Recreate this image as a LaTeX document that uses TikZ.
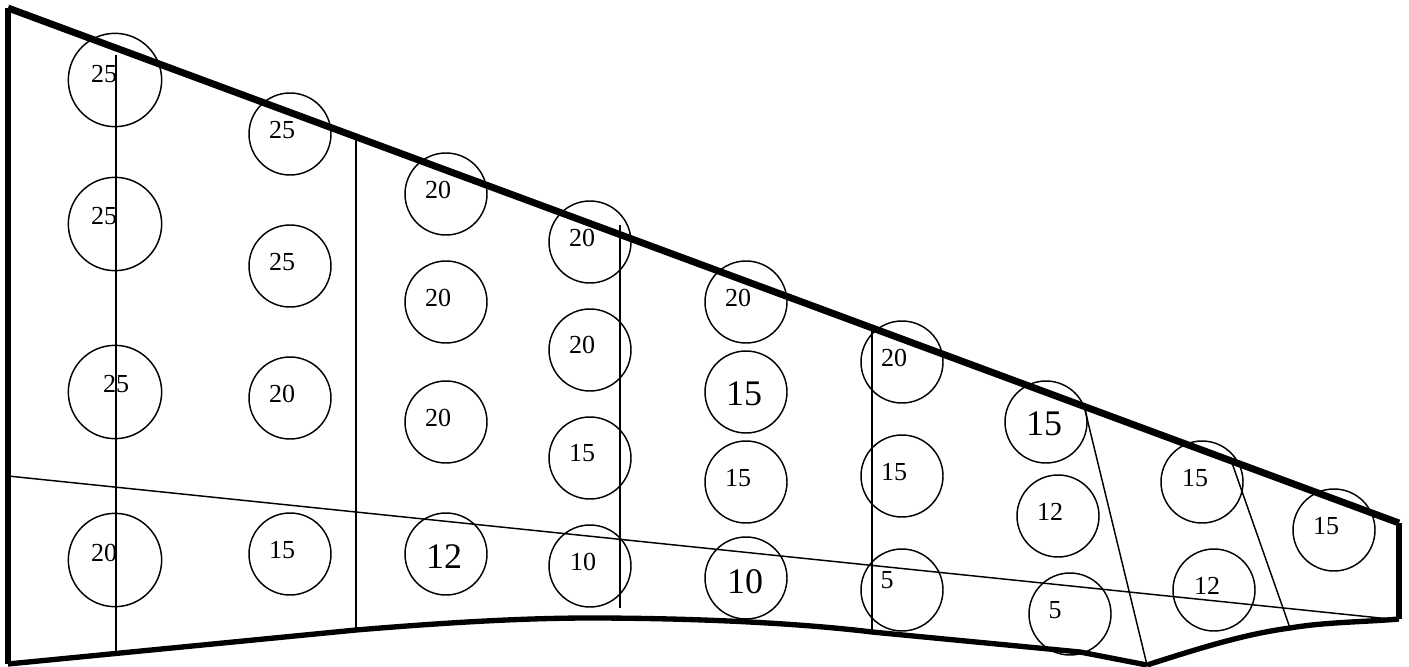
\documentclass[tikz,border=0pt]{standalone}
\usepackage{fontspec}
\setmainfont{Liberation Serif}
\tikzset{
  ringbig/.style={circle, draw=black, line width=1.1pt, inner sep=0pt, minimum size=70pt},
  ring/.style   ={circle, draw=black, line width=1.1pt, inner sep=0pt, minimum size=61.5pt},
  num/.style    ={inner sep=0pt, font=\fontsize{19.5}{22}\selectfont},
  numbig/.style ={inner sep=0pt, font=\fontsize{27}{30}\selectfont},
  thinline/.style={draw=black, line width=1.1pt},
  outline/.style ={draw=black, line width=4pt},
  topedge/.style ={draw=black, line width=5.2pt},
}
\begin{document}
\begin{tikzpicture}[x=0.75pt,y=-0.75pt]
\useasboundingbox (0,0) rectangle (1409,667);
% --- outline points ---
\coordinate (tl) at (8,8);
\coordinate (tr) at (1399,523);
\coordinate (br) at (1399,619);
\coordinate (kink) at (1147,665);
\coordinate (flapb) at (1290,628);
\coordinate (bl) at (8,664);
\coordinate (b1) at (116,654);
\coordinate (b2) at (356,630);
\coordinate (b3) at (590,618);
\coordinate (b4) at (872,632);
% --- thin line ends ---
\coordinate (t1) at (116,55);
\coordinate (t2) at (356,140);
\coordinate (t3) at (620,225);
\coordinate (b3s) at (620,608);
\coordinate (t4) at (872,330);
\coordinate (t5) at (1085,410);
\coordinate (t6) at (1232,463);
\coordinate (ml) at (8,476);
\coordinate (mr) at (1390,619);
% --- circles, column 1 ---
\node[ringbig] (c11) at (115,80) {};
\node[ringbig] (c12) at (115,224) {};
\node[ringbig] (c13) at (115,392) {};
\node[ringbig] (c14) at (115,560) {};
% --- column 2 ---
\node[ring] (c21) at (290,134) {};
\node[ring] (c22) at (290,266) {};
\node[ring] (c23) at (290,398) {};
\node[ring] (c24) at (290,554) {};
% --- column 3 ---
\node[ring] (c31) at (446,194) {};
\node[ring] (c32) at (446,302) {};
\node[ring] (c33) at (446,422) {};
\node[ring] (c34) at (446,554) {};
% --- column 4 ---
\node[ring] (c41) at (590,242) {};
\node[ring] (c42) at (590,350) {};
\node[ring] (c43) at (590,458) {};
\node[ring] (c44) at (590,566) {};
% --- column 5 ---
\node[ring] (c51) at (746,302) {};
\node[ring] (c52) at (746,392) {};
\node[ring] (c53) at (746,482) {};
\node[ring] (c54) at (746,578) {};
% --- column 6 ---
\node[ring] (c61) at (902,362) {};
\node[ring] (c62) at (902,476) {};
\node[ring] (c63) at (902,590) {};
% --- column 7 ---
\node[ring] (c71) at (1046,422) {};
\node[ring] (c72) at (1058,516) {};
\node[ring] (c73) at (1070,614) {};
% --- columns 8 and 9 ---
\node[ring] (c81) at (1202,482) {};
\node[ring] (c82) at (1214,590) {};
\node[ring] (c91) at (1334,530) {};
% --- numbers ---
\node[num] (n11) at (104,74) {25};
\node[num] (n12) at (104,216) {25};
\node[num] (n13) at (116,384) {25};
\node[num] (n14) at (104,553) {20};
\node[num] (n21) at (282,130) {25};
\node[num] (n22) at (282,262) {25};
\node[num] (n23) at (282,394) {20};
\node[num] (n24) at (282,550) {15};
\node[num] (n31) at (438,190) {20};
\node[num] (n32) at (438,298) {20};
\node[num] (n33) at (438,418) {20};
\node[numbig] (n34) at (444,557) {12};
\node[num] (n41) at (582,238) {20};
\node[num] (n42) at (582,345) {20};
\node[num] (n43) at (582,453) {15};
\node[num] (n44) at (583,562) {10};
\node[num] (n51) at (738,298) {20};
\node[numbig] (n52) at (744,394) {15};
\node[num] (n53) at (738,478) {15};
\node[numbig] (n54) at (745,582) {10};
\node[num] (n61) at (894,358) {20};
\node[num] (n62) at (894,472) {15};
\node[num] (n63) at (887,580) {5};
\node[numbig] (n71) at (1044,424) {15};
\node[num] (n72) at (1050,512) {12};
\node[num] (n73) at (1055,610) {5};
\node[num] (n81) at (1195,478) {15};
\node[num] (n82) at (1207,586) {12};
\node[num] (n91) at (1326,526) {15};
% thin lines
\draw[thinline] (t1) -- (b1);
\draw[thinline] (t2) -- (b2);
\draw[thinline] (t3) -- (b3s);
\draw[thinline] (t4) -- (b4);
\draw[thinline] (t5) -- (kink);
\draw[thinline] (t6) -- (flapb);
\draw[thinline] (ml) -- (mr);
% heavy outline
\draw[outline] (bl) -- (tl);
\draw[topedge] (tl) -- (tr);
\draw[outline] (tr) -- (br);
\draw[outline] (bl) -- (b2) .. controls (440,623) and (520,618) .. (b3)
  .. controls (680,618) and (790,622) .. (b4) -- (1080,652) -- (kink);
\draw[outline] (kink) .. controls (1200,648) and (1245,634) .. (flapb)
  .. controls (1325,622) and (1365,622) .. (br);
\end{tikzpicture}
\end{document}
